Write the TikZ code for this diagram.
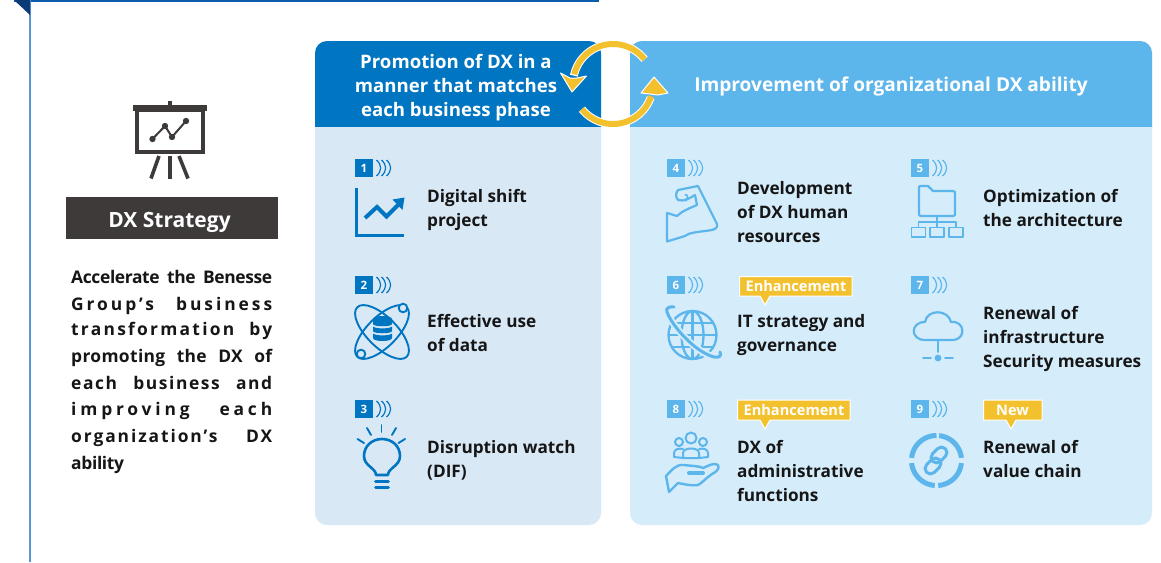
\documentclass[tikz,border=0pt]{standalone}
\usepackage{fontspec}
\setmainfont[BoldFont={Open Sans Bold}]{Open Sans}
\definecolor{topblue}{HTML}{0B5CAD}
\definecolor{navy}{HTML}{0A3A78}
\definecolor{sideblue}{HTML}{5B93D3}
\definecolor{charcoal}{HTML}{3E3A39}
\definecolor{deepblue}{HTML}{0075C2}
\definecolor{skyblue}{HTML}{5CB5EB}
\definecolor{paleL}{HTML}{D9E8F5}
\definecolor{paleR}{HTML}{D5ECFA}
\definecolor{amber}{HTML}{F4C12E}
\definecolor{ink}{HTML}{161616}
\newcommand\jline[2]{\hbox to 201pt{\addfontfeature{LetterSpace=#1}#2}}
\newcommand\fillgap{\hfill}
% badge: name, x, y, colour, number
\newcommand\bdg[5]{%
  \node[badgebox,fill=#4] (#1) at (#2+9,#3+9) {#5};
  \foreach \cx in {0,5,10}{
    \draw[#4,line width=1.2pt] (#2+21.5+\cx,#3+1) .. controls (#2+27+\cx,#3+6) and (#2+27+\cx,#3+12) .. (#2+21.5+\cx,#3+17);
  }}
\tikzset{
  x=1pt,y=-1pt,
  badgebox/.style={minimum size=18pt,inner sep=0pt,text=white,font=\fontsize{11.5}{12}\selectfont\bfseries},
  itemtext/.style={anchor=west,inner sep=0pt,align=left,text=ink,font=\fontsize{17.2}{24}\selectfont\bfseries},
  headtext/.style={inner sep=0pt,align=center,text=white,font=\fontsize{18.6}{24}\selectfont\bfseries},
  leadline/.style={anchor=base west,inner sep=0pt,text=ink,font=\fontsize{17.4}{20}\selectfont\bfseries},
  tagtext/.style={inner sep=0pt,text=white,font=\fontsize{14.6}{16}\selectfont\bfseries},
  iconL/.style={draw=deepblue,line width=2.2pt,line cap=round,line join=round},
  iconR/.style={draw=skyblue,line width=2.2pt,line cap=round,line join=round},
  loopback/.style={white,line width=8pt},
  loopfront/.style={amber,line width=6pt},
}
\begin{document}
\begin{tikzpicture}
\useasboundingbox (0,0) rectangle (1161,562);
\fill[white] (0,0) rectangle (1161,562);
% frame
\fill[topblue] (14,0) rectangle (599,2);
\fill[sideblue] (28.5,0) rectangle (30.5,562);
\fill[navy] (14,0) -- (30,0) -- (30,15) -- cycle;

% presentation icon
\fill[charcoal] (132.5,105) rectangle (207,110.5);
\fill[charcoal] (168,101) rectangle (172,105);
\draw[charcoal,line width=4pt] (136.5,110) rectangle (203,152);
\draw[charcoal,line width=2pt] (152.5,139) -- (165,126) -- (172,137) -- (186,121);
\foreach \dx/\dy in {152.5/139,165/126,172/137,186/121}{\fill[charcoal] (\dx,\dy) circle (3.2pt);}
\draw[charcoal,line width=3.6pt] (159,156) -- (151,178.5);
\draw[charcoal,line width=3.6pt] (170,156) -- (170,178.5);
\draw[charcoal,line width=3.6pt] (179,156) -- (188,178.5);

% DX Strategy
\node[fill=charcoal,minimum width=212pt,minimum height=42pt,inner sep=0pt,text=white,font=\fontsize{21}{24}\selectfont\bfseries] (strategy) at (172,218) {\hspace*{-5pt}\raisebox{-9pt}[0pt][0pt]{DX Strategy}};

% lead text
\node[leadline] (l1) at (71,283) {\jline{-2}{Accelerate\fillgap the\fillgap Benesse}};
\node[leadline] (l2) at (71,310) {\jline{17}{Group’s\fillgap business}};
\node[leadline] (l3) at (71,335) {\jline{13}{transformation\fillgap by}};
\node[leadline] (l4) at (71,362) {\jline{2}{promoting\fillgap the\fillgap DX\fillgap of}};
\node[leadline] (l5) at (71,389) {\jline{9}{each\fillgap business\fillgap and}};
\node[leadline] (l6) at (71,415) {\jline{22}{improving\fillgap each}};
\node[leadline] (l7) at (71,442) {\jline{11}{organization’s\fillgap DX}};
\node[leadline] (l8) at (71,469) {\jline{-2}{ability}};

% panels
\fill[paleL,rounded corners=12pt] (315,41) rectangle (601,525);
\fill[paleR,rounded corners=12pt] (630,41) rectangle (1152,525);
\begin{scope}
\clip (315,41) rectangle (601,126);
\fill[deepblue,rounded corners=12pt] (315,41) rectangle (601,200);
\end{scope}
\begin{scope}
\clip (630,41) rectangle (1152,126);
\fill[skyblue,rounded corners=12pt] (630,41) rectangle (1152,200);
\end{scope}
\node[headtext] (hL) at (456,87.5) {Promotion of DX in a\\manner that matches\\each business phase};
\node[headtext,font=\fontsize{19.1}{24}\selectfont\bfseries] (hR) at (891,86) {Improvement of organizational DX ability};

% loop arrows
\draw[loopback] plot[domain=38:168,samples=40] ({613+40*cos(\x)},{84-40*sin(\x)});
\draw[white,line width=1pt,fill=amber,line join=round] (560.5,73) -- (572,92) -- (586.5,76) -- (577,78) -- (570,78) -- cycle;
\draw[loopfront] plot[domain=38:166,samples=40] ({613+40*cos(\x)},{84-40*sin(\x)});
\draw[loopback] plot[domain=219:340,samples=40] ({613+40*cos(\x)},{84-40*sin(\x)});
\draw[white,line width=1pt,fill=amber,line join=round] (641,93) -- (654,77) -- (668,93) -- (658,95) -- (650,94) -- cycle;
\draw[loopfront] plot[domain=219:342,samples=40] ({613+40*cos(\x)},{84-40*sin(\x)});

% badges
\bdg{b1}{355}{159}{deepblue}{1}
\bdg{b2}{355}{276}{deepblue}{2}
\bdg{b3}{355}{400}{deepblue}{3}
\bdg{b4}{667}{159}{skyblue}{4}
\bdg{b5}{911}{159}{skyblue}{5}
\bdg{b6}{667}{276}{skyblue}{6}
\bdg{b7}{911}{276}{skyblue}{7}
\bdg{b8}{667}{400}{skyblue}{8}
\bdg{b9}{911}{400}{skyblue}{9}

% tags
\draw[white,line width=1pt,fill=amber] (739.5,276.5) -- (852,276.5) -- (852,296) -- (770,296) -- (765,305) -- (760,296) -- (739.5,296) -- cycle;
\node[tagtext] (t6) at (796,286.5) {Enhancement};
\draw[white,line width=1pt,fill=amber] (737.5,400) -- (850,400) -- (850,420) -- (770,420) -- (765,429) -- (760,420) -- (737.5,420) -- cycle;
\node[tagtext] (t8) at (794,410) {Enhancement};
\draw[white,line width=1pt,fill=amber] (983.5,400) -- (1042,400) -- (1042,420) -- (1016,420) -- (1011,429) -- (1006,420) -- (983.5,420) -- cycle;
\node[tagtext] (t9) at (1012.5,410) {New};

% item texts
\node[itemtext] (i1) at (427,210) {Digital shift\\project};
\node[itemtext] (i2) at (427,333) {Effective use\\of data};
\node[itemtext] (i3) at (427,460) {Disruption watch\\(DIF)};
\node[itemtext] (i4) at (737,212) {Development\\of DX human\\resources};
\node[itemtext] (i5) at (983,208) {Optimization of\\the architecture};
\node[itemtext] (i6) at (737,335) {IT strategy and\\governance};
\node[itemtext] (i7) at (983,339) {Renewal of\\infrastructure\\Security measures};
\node[itemtext] (i8) at (737,471) {DX of\\administrative\\functions};
\node[itemtext] (i9) at (983,459) {Renewal of\\value chain};

% icon 1: chart
\draw[deepblue,line width=3.4pt] (356.5,188) -- (356.5,235.5) -- (403.5,235.5);
\draw[deepblue,line width=4pt,line join=miter] (365,218) -- (377,207) -- (386.5,216.5) -- (398,205);
\fill[deepblue] (404.5,197.5) -- (392.5,199.5) -- (402.5,210) -- cycle;

% icon 2: atom with database
\draw[iconL,line width=1.9pt,rotate around={45:(382,332)}] (382,332) ellipse (35pt and 15pt);
\draw[iconL,line width=1.9pt,rotate around={-45:(382,332)}] (382,332) ellipse (35pt and 15pt);
\draw[iconL,line width=1.9pt,fill=paleL] (403,308) circle (4.3pt);
\draw[iconL,line width=1.9pt,fill=paleL] (361,354) circle (4.3pt);
\fill[deepblue] (373,319) .. controls (373,315) and (392,315) .. (392,319) -- (392,324) .. controls (392,327) and (373,327) .. (373,324) -- cycle;
\fill[deepblue] (373,326.5) .. controls (376,329) and (389,329) .. (392,326.5) -- (392,331) .. controls (392,334) and (373,334) .. (373,331) -- cycle;
\fill[deepblue] (373,333.5) .. controls (376,336) and (389,336) .. (392,333.5) -- (392,338) .. controls (392,342) and (373,342) .. (373,338) -- cycle;

% icon 3: bulb
\draw[iconL,line width=2.6pt] (376,475) .. controls (376,468) and (364,466) .. (364,456) .. controls (364,446) and (372,439) .. (382,439) .. controls (392,439) and (400,446) .. (400,456) .. controls (400,466) and (388,468) .. (388,475) -- cycle;
\draw[iconL,line width=2.6pt] (375.5,481.5) -- (388.5,481.5);
\draw[iconL,line width=2.6pt] (375.5,487.5) -- (388.5,487.5);
\draw[iconL,line width=1.9pt] (381.5,425) -- (381.5,432);
\draw[iconL,line width=1.9pt] (367,428) -- (371,435);
\draw[iconL,line width=1.9pt] (396,428) -- (392,435);
\draw[iconL,line width=1.9pt] (357.5,439) -- (364,443);
\draw[iconL,line width=1.9pt] (405,439) -- (398.5,443);

% icon 4: arm
\draw[iconR] (667,241.5) -- (667,213) -- (677,216) .. controls (682,211) and (690,208) .. (697,205) -- (695,195) .. controls (690,198) and (684,202) .. (678,200) .. controls (675,197) and (676,192) .. (678,190) -- (698,186) -- (717,224) .. controls (718,228) and (715,229) .. (712,230) .. controls (700,232) and (690,232) .. (685,236) -- cycle;
\draw[iconR,line width=1.5pt] (685,195) .. controls (688,194) and (688,197) .. (686,201);

% icon 5: folder
\draw[iconR] (921,186) -- (928,186) -- (933,191) -- (953,191) .. controls (955,191) and (955,192) .. (955,194) -- (955,213) .. controls (955,215) and (955,216) .. (953,216) -- (921,216) .. controls (919,216) and (919,215) .. (919,213) -- (919,188) .. controls (919,186) and (919,186) .. (921,186) -- cycle;
\draw[iconR,line width=1.8pt] (937,216) -- (937,227);
\draw[iconR,line width=1.8pt] (918.5,227) -- (918.5,222) -- (956,222) -- (956,227);
\draw[iconR,line width=1.8pt] (911.5,227.5) rectangle (925.5,237);
\draw[iconR,line width=1.8pt] (930,227.5) rectangle (944,237);
\draw[iconR,line width=1.8pt] (949,227.5) rectangle (963,237);

% icon 6: globe
\draw[iconR,line width=2.3pt] (692.5,335) circle (24pt);
\draw[iconR,line width=2.3pt] (692.5,335) ellipse (11pt and 24pt);
\draw[iconR,line width=2.3pt] (692.5,311) -- (692.5,359);
\draw[iconR,line width=2.3pt] (672,323) -- (713,323);
\draw[iconR,line width=2.3pt] (669,335) -- (716,335);
\draw[iconR,line width=2.3pt] (672,347) -- (713,347);
\draw[paleR,line width=7pt] (667,312) .. controls (672,326) and (695,352) .. (714,357);
\draw[iconR,line width=3pt] (674,307) .. controls (670,306) and (665,308) .. (667,312) .. controls (672,326) and (695,352) .. (714,357) .. controls (719,358) and (722,356) .. (720,352);

% icon 7: cloud
\draw[iconR] (925,340) .. controls (910,340) and (910,322) .. (925,322) .. controls (927,309) and (948,309) .. (951,322) .. controls (965,320) and (967,340) .. (952,340) -- cycle;
\draw[iconR,line width=1.8pt] (938,340) -- (938,352);
\fill[skyblue] (938,358) circle (3.4pt);
\draw[iconR,line width=1.8pt] (923,358) -- (931,358);
\draw[iconR,line width=1.8pt] (945,358) -- (953,358);

% icon 8: people and hand
\draw[iconR,line width=2pt] (691,438) circle (5.5pt);
\draw[iconR,line width=2pt] (679,442) circle (4pt);
\draw[iconR,line width=2pt] (703,442) circle (4pt);
\draw[iconR,line width=2pt] (683,458) -- (683,453) .. controls (683,447) and (699,447) .. (699,453) -- (699,458) -- cycle;
\draw[iconR,line width=2pt] (683,458) -- (674,457) -- (674,453) .. controls (674,449) and (679,448) .. (683,449);
\draw[iconR,line width=2pt] (699,458) -- (708,457) -- (708,453) .. controls (708,449) and (703,448) .. (699,449);
\draw[iconR,line width=2.4pt] (669,492) -- (666,476) .. controls (672,470) and (676,464) .. (684,465) .. controls (692,466) and (700,466) .. (703,468) .. controls (708,466) and (714,462) .. (718,465) .. controls (720,469) and (716,472) .. (712,474) .. controls (706,478) and (702,483) .. (698,485) .. controls (690,486) and (684,484) .. (678,483) -- cycle;
\draw[iconR,line width=4pt] (689,473) -- (703,473);

% icon 9: ring and chain
\foreach \sa/\sb in {90/174,186/266,274/354,6/84}{
  \draw[skyblue,line width=5pt] plot[domain=\sa:\sb,samples=24] ({936.5+25*cos(\x)},{460.5-25*sin(\x)});
}
\draw[iconR,line width=3pt,rounded corners=5.5pt,rotate around={45:(939,455)}] (930,449.5) rectangle (948,460.5);
\draw[iconR,line width=3pt,rounded corners=5.5pt,rotate around={45:(933,466)}] (924,460.5) rectangle (942,471.5);
\end{tikzpicture}
\end{document}
